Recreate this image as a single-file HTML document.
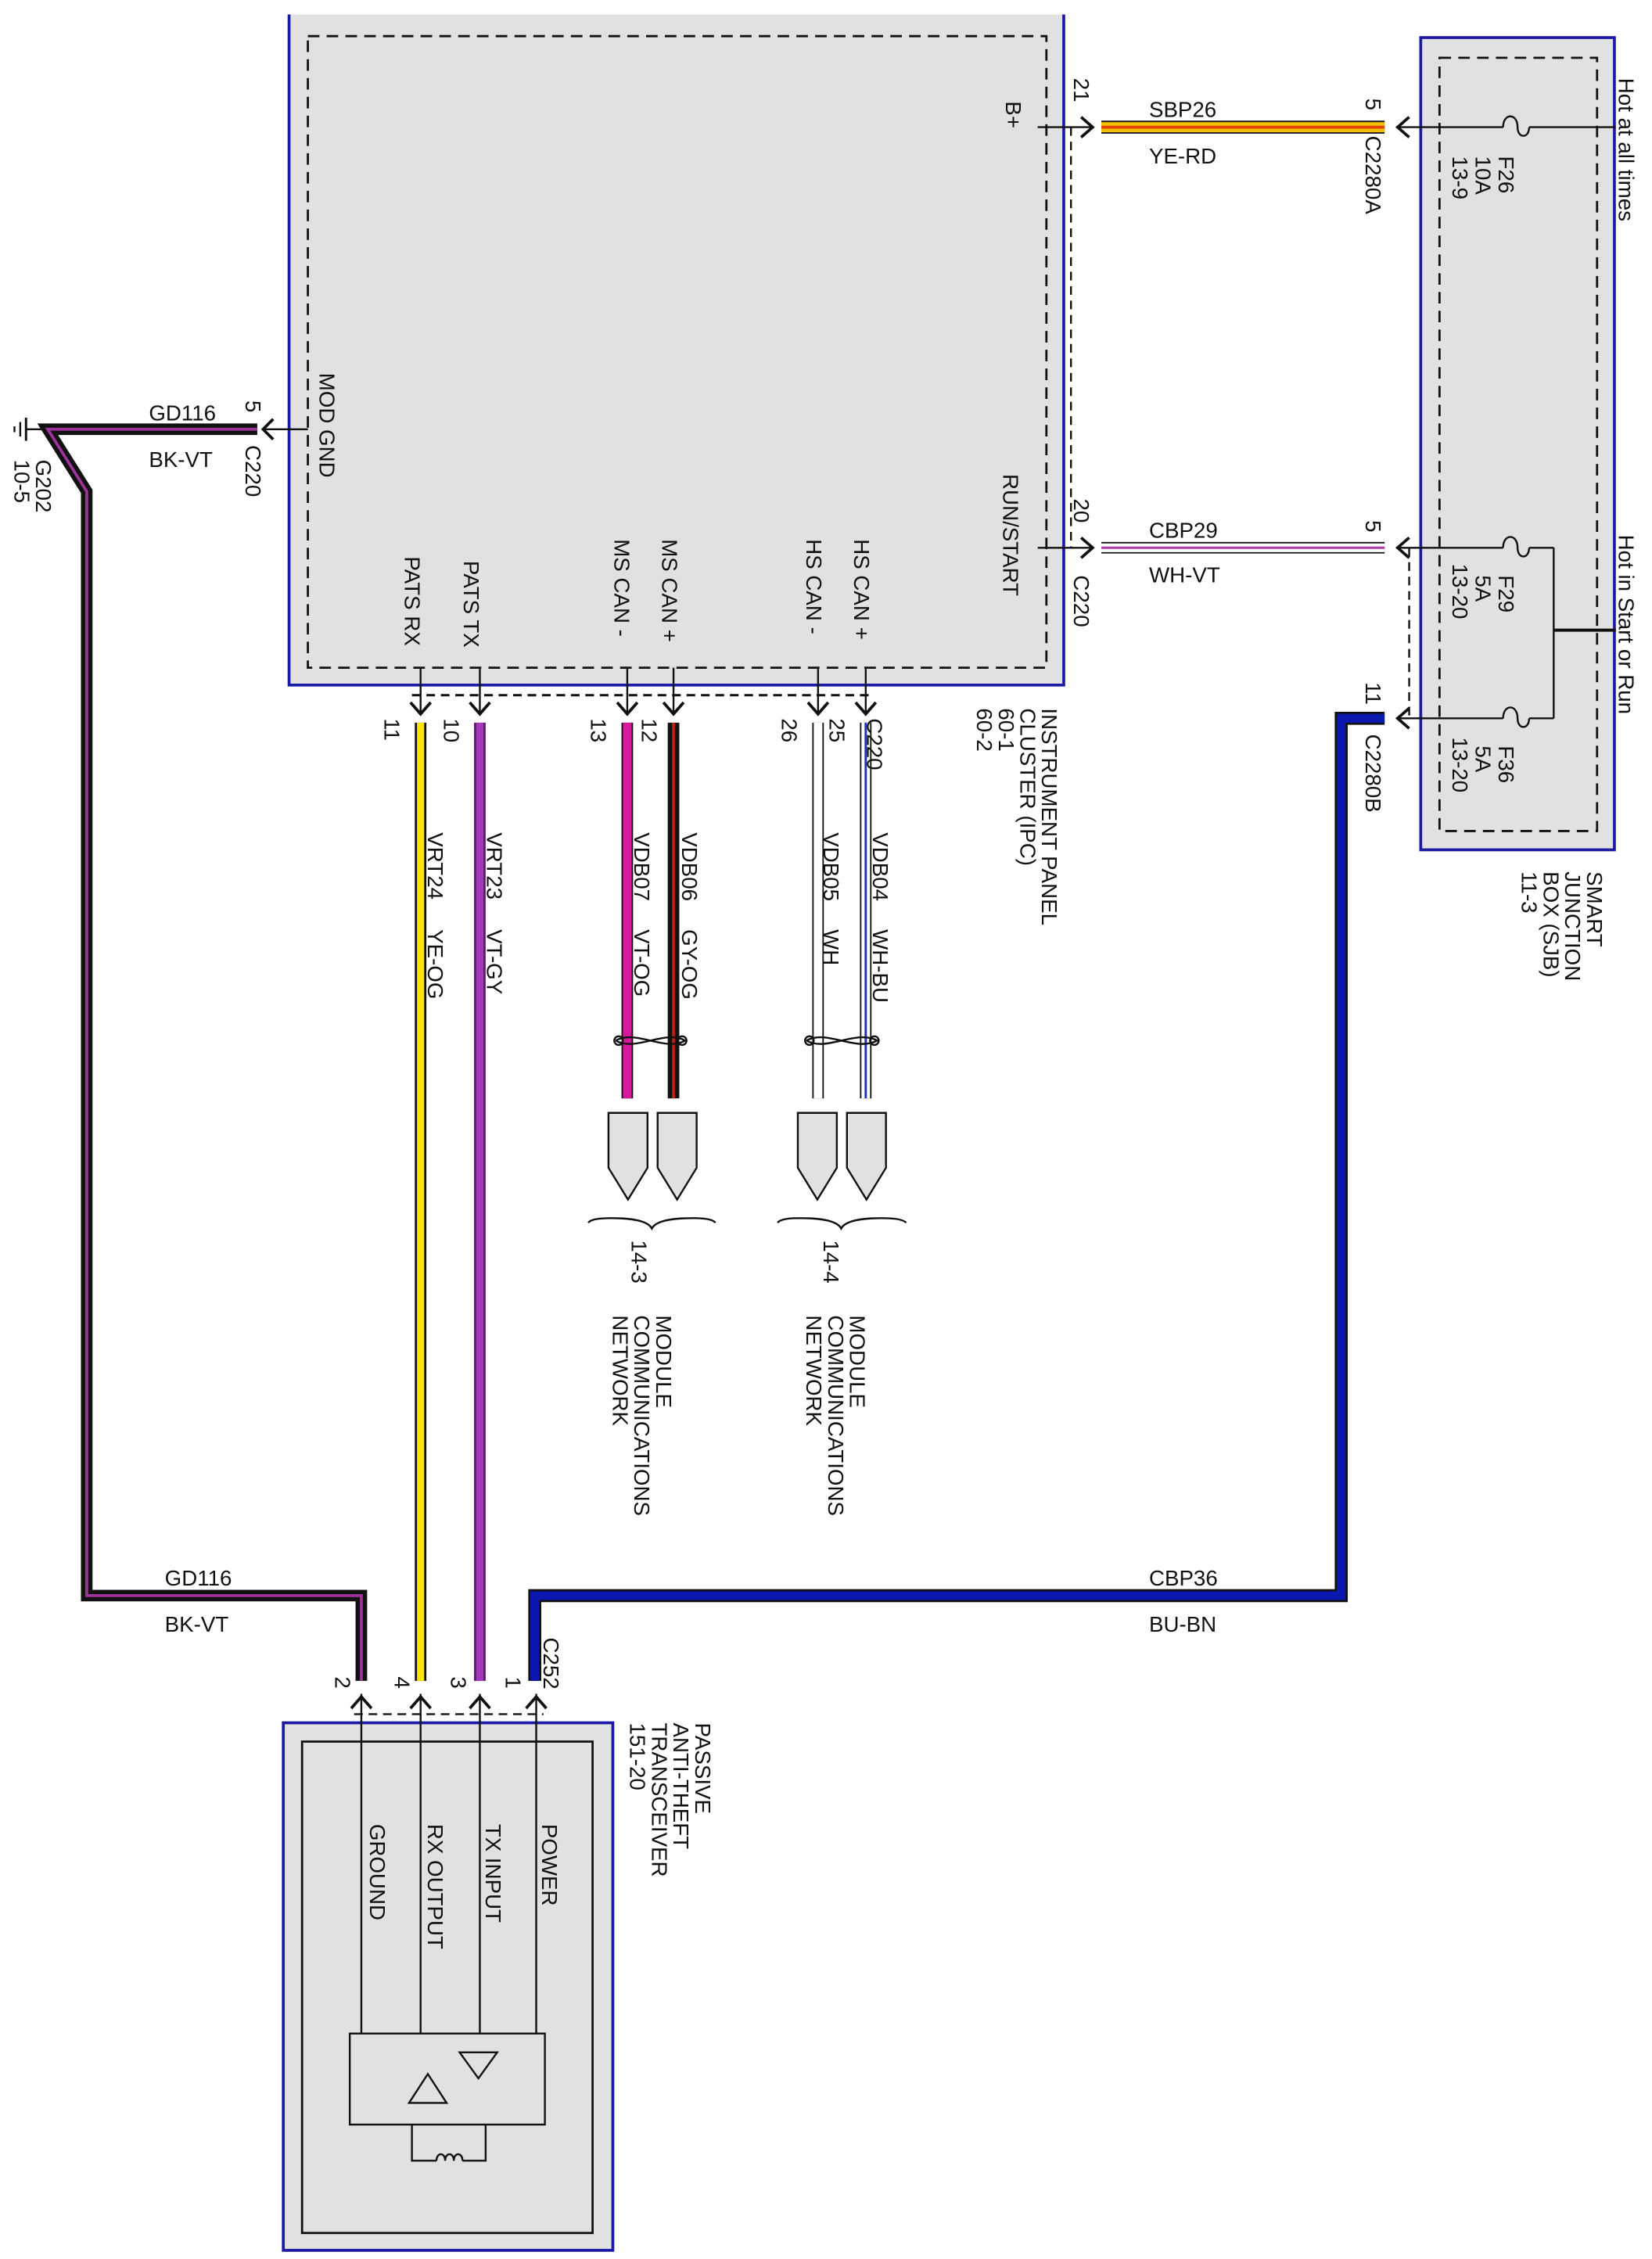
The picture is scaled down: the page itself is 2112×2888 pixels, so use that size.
<!DOCTYPE html>
<html><head><meta charset="utf-8"><style>
html,body{margin:0;padding:0;background:#fff}
svg{display:block}
text{font-family:"Liberation Sans",Arial,sans-serif;font-size:15px;fill:#111}
</style></head><body>
<svg width="2112" height="2888" viewBox="0 0 1143 1563" xmlns="http://www.w3.org/2000/svg">
<!-- IPC box -->
<rect x="200" y="10" width="536" height="464" fill="#e1e1e1"/>
<path d="M200,10 V474 H736 V10" fill="none" stroke="#1a1aa6" stroke-width="2"/>
<rect x="213" y="25" width="511" height="437" fill="none" stroke="#111" stroke-width="1.5" stroke-dasharray="8,5"/>
<!-- SJB box -->
<rect x="983" y="26" width="134" height="562" fill="#e1e1e1" stroke="#1a1aa6" stroke-width="2"/>
<rect x="996" y="40" width="109" height="535" fill="none" stroke="#111" stroke-width="1.5" stroke-dasharray="8,5"/>
<!-- PATT box -->
<rect x="196" y="1192" width="228" height="365" fill="#e1e1e1" stroke="#1a1aa6" stroke-width="2"/>
<rect x="209" y="1205" width="201" height="340" fill="none" stroke="#111" stroke-width="1.5"/>

<g fill="none" stroke="#111" stroke-width="1.3">
<!-- IPC pin lines -->
<line x1="718" y1="88" x2="756" y2="88"/>
<line x1="718" y1="379" x2="756" y2="379"/>
<line x1="213" y1="297" x2="182" y2="297"/>
<line x1="741" y1="88" x2="741" y2="379" stroke-dasharray="6,4"/>
<line x1="291" y1="462" x2="291" y2="495"/><line x1="332" y1="462" x2="332" y2="495"/>
<line x1="434" y1="462" x2="434" y2="495"/><line x1="466" y1="462" x2="466" y2="495"/>
<line x1="566" y1="462" x2="566" y2="495"/><line x1="599" y1="462" x2="599" y2="495"/>
<line x1="285" y1="481" x2="603" y2="481" stroke-dasharray="6,4" stroke-width="1.6"/>
<!-- SJB internal -->
<line x1="966" y1="88" x2="1040" y2="88"/><path d="M1040,88 c0,-10 10,-10 10,0 c0,8 8,8 8,0"/><line x1="1058" y1="88" x2="1118" y2="88"/>
<line x1="966" y1="379" x2="1040" y2="379"/><path d="M1040,379 c0,-10 10,-10 10,0 c0,8 8,8 8,0"/><line x1="1058" y1="379" x2="1075" y2="379"/>
<line x1="966" y1="497" x2="1040" y2="497"/><path d="M1040,497 c0,-10 10,-10 10,0 c0,8 8,8 8,0"/><line x1="1058" y1="497" x2="1075" y2="497"/>
<line x1="1075" y1="379" x2="1075" y2="497"/>
<line x1="1075" y1="436" x2="1118" y2="436" stroke-width="2.2"/>
<line x1="975" y1="379" x2="975" y2="497" stroke-dasharray="6,4"/>
<!-- PATT internal -->
<line x1="250" y1="1172" x2="250" y2="1407"/><line x1="291" y1="1172" x2="291" y2="1407"/>
<line x1="332" y1="1172" x2="332" y2="1407"/><line x1="371" y1="1172" x2="371" y2="1407"/>
<line x1="245" y1="1186" x2="376" y2="1186" stroke-dasharray="6,4"/>
<rect x="242" y="1407" width="135" height="63" fill="none"/>
<path d="M283,1455 L296,1435 L309,1455 Z"/>
<path d="M318,1420 L344,1420 L331,1438 Z"/>
<path d="M285,1470 V1495 H302 M336,1470 V1495 H320 M302,1495 c0,-6 6,-6 6,0 c0,-6 6,-6 6,0 c0,-6 6,-6 6,0"/>
<!-- ground -->
<line x1="33" y1="297" x2="18" y2="297"/>
<line x1="18" y1="289" x2="18" y2="305" stroke-width="1.6"/><line x1="14" y1="292" x2="14" y2="302"/><line x1="10" y1="295" x2="10" y2="299"/>
</g>

<!-- arrows -->
<g fill="none" stroke="#111" stroke-width="2">
<path d="M748,81 L756,88 L748,95"/><path d="M748,372 L756,379 L748,386"/>
<path d="M975,81 L967,88 L975,95"/><path d="M975,372 L967,379 L975,386"/><path d="M975,490 L967,497 L975,504"/>
<path d="M189,290 L182,297 L189,304"/>
<path d="M284,486 L291,494 L298,486"/><path d="M325,486 L332,494 L339,486"/>
<path d="M427,486 L434,494 L441,486"/><path d="M459,486 L466,494 L473,486"/>
<path d="M559,486 L566,494 L573,486"/><path d="M592,486 L599,494 L606,486"/>
<path d="M243,1182 L250,1174 L257,1182"/><path d="M284,1182 L291,1174 L298,1182"/>
<path d="M325,1182 L332,1174 L339,1182"/><path d="M364,1182 L371,1174 L378,1182"/>
</g>

<!-- wires -->
<g fill="none" stroke-linejoin="miter">
<path d="M178,297 L33,297 L60,340 L60,1104 L250,1104 L250,1163" stroke="#111" stroke-width="8"/>
<path d="M178,297 L33,297 L60,340 L60,1104 L250,1104 L250,1163" stroke="#a0329c" stroke-width="2"/>
<path d="M958,497 L928,497 L928,1104 L370,1104 L370,1163" stroke="#111" stroke-width="9"/>
<path d="M958,497 L928,497 L928,1104 L370,1104 L370,1163" stroke="#0a18b0" stroke-width="6"/>
<line x1="762" y1="88" x2="958" y2="88" stroke="#111" stroke-width="9"/>
<line x1="762" y1="88" x2="958" y2="88" stroke="#f3c000" stroke-width="7"/>
<line x1="762" y1="88" x2="958" y2="88" stroke="#e04000" stroke-width="2"/>
<line x1="762" y1="379" x2="958" y2="379" stroke="#111" stroke-width="8"/>
<line x1="762" y1="379" x2="958" y2="379" stroke="#fff" stroke-width="6"/>
<line x1="762" y1="379" x2="958" y2="379" stroke="#b03aa8" stroke-width="1.6"/>
<line x1="291" y1="500" x2="291" y2="1163" stroke="#111" stroke-width="8"/>
<line x1="291" y1="500" x2="291" y2="1163" stroke="#ffe600" stroke-width="5"/>
<line x1="332" y1="500" x2="332" y2="1163" stroke="#5a1870" stroke-width="8"/>
<line x1="332" y1="500" x2="332" y2="1163" stroke="#a53ab8" stroke-width="5"/>
<line x1="434" y1="500" x2="434" y2="760" stroke="#111" stroke-width="8"/>
<line x1="434" y1="500" x2="434" y2="760" stroke="#d8189c" stroke-width="6"/>
<line x1="466" y1="500" x2="466" y2="760" stroke="#111" stroke-width="8"/>
<line x1="466" y1="500" x2="466" y2="760" stroke="#c02010" stroke-width="2"/>
<line x1="566" y1="500" x2="566" y2="760" stroke="#111" stroke-width="8"/>
<line x1="566" y1="500" x2="566" y2="760" stroke="#fff" stroke-width="6"/>
<line x1="599" y1="500" x2="599" y2="760" stroke="#111" stroke-width="8"/>
<line x1="599" y1="500" x2="599" y2="760" stroke="#fff" stroke-width="6"/>
<line x1="599" y1="500" x2="599" y2="760" stroke="#2030c0" stroke-width="1.6"/>
</g>
<!-- twists -->
<g fill="none" stroke="#111" stroke-width="1.3">
<path d="M426,720 C440,712 460,728 474,720 C460,712 440,728 426,720"/>
<path d="M558,720 C572,712 592,728 607,720 C592,712 572,728 558,720"/>
<circle cx="428" cy="720" r="3"/><circle cx="472" cy="720" r="3"/>
<circle cx="560" cy="720" r="3"/><circle cx="605" cy="720" r="3"/>
</g>
<!-- connector pentagons -->
<g fill="#e1e1e1" stroke="#111" stroke-width="1.3">
<path d="M421,770 H448 V808 L434.5,830 L421,808 Z"/>
<path d="M455,770 H482 V808 L468.5,830 L455,808 Z"/>
<path d="M552,770 H579 V808 L565.5,830 L552,808 Z"/>
<path d="M586,770 H613 V808 L599.5,830 L586,808 Z"/>
</g>
<g fill="none" stroke="#111" stroke-width="1.3">
<path d="M407,846 Q410,842 430,843 Q448,844 451,850 Q454,844 472,843 Q492,842 495,846"/>
<path d="M538,846 Q541,842 561,843 Q579,844 582,850 Q585,844 603,843 Q623,842 627,846"/>
</g>

<!-- horizontal labels -->
<text x="795" y="81">SBP26</text><text x="795" y="113">YE-RD</text>
<text x="795" y="372">CBP29</text><text x="795" y="403">WH-VT</text>
<text x="103" y="291">GD116</text><text x="103" y="323">BK-VT</text>
<text x="114" y="1097">GD116</text><text x="114" y="1129">BK-VT</text>
<text x="795" y="1097">CBP36</text><text x="795" y="1129">BU-BN</text>

<!-- rotated labels helper: baseline on left -->
<g>
<text transform="translate(696,70) rotate(90)">B+</text>
<text transform="translate(221,258) rotate(90)">MOD GND</text>
<text transform="translate(694,328) rotate(90)">RUN/START</text>
<text transform="translate(280,385) rotate(90)">PATS RX</text>
<text transform="translate(321,388) rotate(90)">PATS TX</text>
<text transform="translate(425,373) rotate(90)">MS CAN -</text>
<text transform="translate(458,373) rotate(90)">MS CAN +</text>
<text transform="translate(558,373) rotate(90)">HS CAN -</text>
<text transform="translate(591,373) rotate(90)">HS CAN +</text>

<text transform="translate(743,54) rotate(90)">21</text>
<text transform="translate(743,345) rotate(90)">20</text>
<text transform="translate(743,398) rotate(90)">C220</text>
<text transform="translate(945,68) rotate(90)">5</text>
<text transform="translate(945,94) rotate(90)">C2280A</text>
<text transform="translate(945,360) rotate(90)">5</text>
<text transform="translate(945,472) rotate(90)">11</text>
<text transform="translate(945,508) rotate(90)">C2280B</text>
<text transform="translate(170,277) rotate(90)">5</text>
<text transform="translate(170,308) rotate(90)">C220</text>

<text transform="translate(1037,108) rotate(90)">F26</text>
<text transform="translate(1021,108) rotate(90)">10A</text>
<text transform="translate(1005,108) rotate(90)">13-9</text>
<text transform="translate(1037,398) rotate(90)">F29</text>
<text transform="translate(1021,398) rotate(90)">5A</text>
<text transform="translate(1005,390) rotate(90)">13-20</text>
<text transform="translate(1037,516) rotate(90)">F36</text>
<text transform="translate(1021,516) rotate(90)">5A</text>
<text transform="translate(1005,510) rotate(90)">13-20</text>
<text transform="translate(1120,54) rotate(90)">Hot at all times</text>
<text transform="translate(1120,370) rotate(90)">Hot in Start or Run</text>

<text transform="translate(1098,603) rotate(90)"><tspan x="0">SMART</tspan><tspan x="0" dy="15">JUNCTION</tspan><tspan x="0" dy="15">BOX (SJB)</tspan><tspan x="0" dy="15">11-3</tspan></text>
<text transform="translate(721,490) rotate(90)"><tspan x="0">INSTRUMENT PANEL</tspan><tspan x="0" dy="15">CLUSTER (IPC)</tspan><tspan x="0" dy="15">60-1</tspan><tspan x="0" dy="15">60-2</tspan></text>
<text transform="translate(481,1192) rotate(90)"><tspan x="0">PASSIVE</tspan><tspan x="0" dy="15">ANTI-THEFT</tspan><tspan x="0" dy="15">TRANSCEIVER</tspan><tspan x="0" dy="15">151-20</tspan></text>
<text transform="translate(25,318) rotate(90)"><tspan x="0">G202</tspan><tspan x="0" dy="15">10-5</tspan></text>

<text transform="translate(266,497) rotate(90)">11</text>
<text transform="translate(307,497) rotate(90)">10</text>
<text transform="translate(409,497) rotate(90)">13</text>
<text transform="translate(444,497) rotate(90)">12</text>
<text transform="translate(541,497) rotate(90)">26</text>
<text transform="translate(574,497) rotate(90)">25</text>
<text transform="translate(600,497) rotate(90)">C220</text>

<text transform="translate(296,576) rotate(90)">VRT24</text><text transform="translate(296,643) rotate(90)">YE-OG</text>
<text transform="translate(337,576) rotate(90)">VRT23</text><text transform="translate(337,643) rotate(90)">VT-GY</text>
<text transform="translate(439,576) rotate(90)">VDB07</text><text transform="translate(439,643) rotate(90)">VT-OG</text>
<text transform="translate(472,576) rotate(90)">VDB06</text><text transform="translate(472,643) rotate(90)">GY-OG</text>
<text transform="translate(570,576) rotate(90)">VDB05</text><text transform="translate(570,643) rotate(90)">WH</text>
<text transform="translate(604,576) rotate(90)">VDB04</text><text transform="translate(604,643) rotate(90)">WH-BU</text>

<text transform="translate(437,858) rotate(90)">14-3</text>
<text transform="translate(570,858) rotate(90)">14-4</text>
<text transform="translate(454,910) rotate(90)"><tspan x="0">MODULE</tspan><tspan x="0" dy="15">COMMUNICATIONS</tspan><tspan x="0" dy="15">NETWORK</tspan></text>
<text transform="translate(588,910) rotate(90)"><tspan x="0">MODULE</tspan><tspan x="0" dy="15">COMMUNICATIONS</tspan><tspan x="0" dy="15">NETWORK</tspan></text>

<text transform="translate(232,1160) rotate(90)">2</text>
<text transform="translate(273,1160) rotate(90)">4</text>
<text transform="translate(312,1160) rotate(90)">3</text>
<text transform="translate(350,1160) rotate(90)">1</text>
<text transform="translate(376,1133) rotate(90)">C252</text>
<text transform="translate(256,1262) rotate(90)">GROUND</text>
<text transform="translate(296,1262) rotate(90)">RX OUTPUT</text>
<text transform="translate(336,1262) rotate(90)">TX INPUT</text>
<text transform="translate(375,1262) rotate(90)">POWER</text>
</g>
</svg>
</body></html>
